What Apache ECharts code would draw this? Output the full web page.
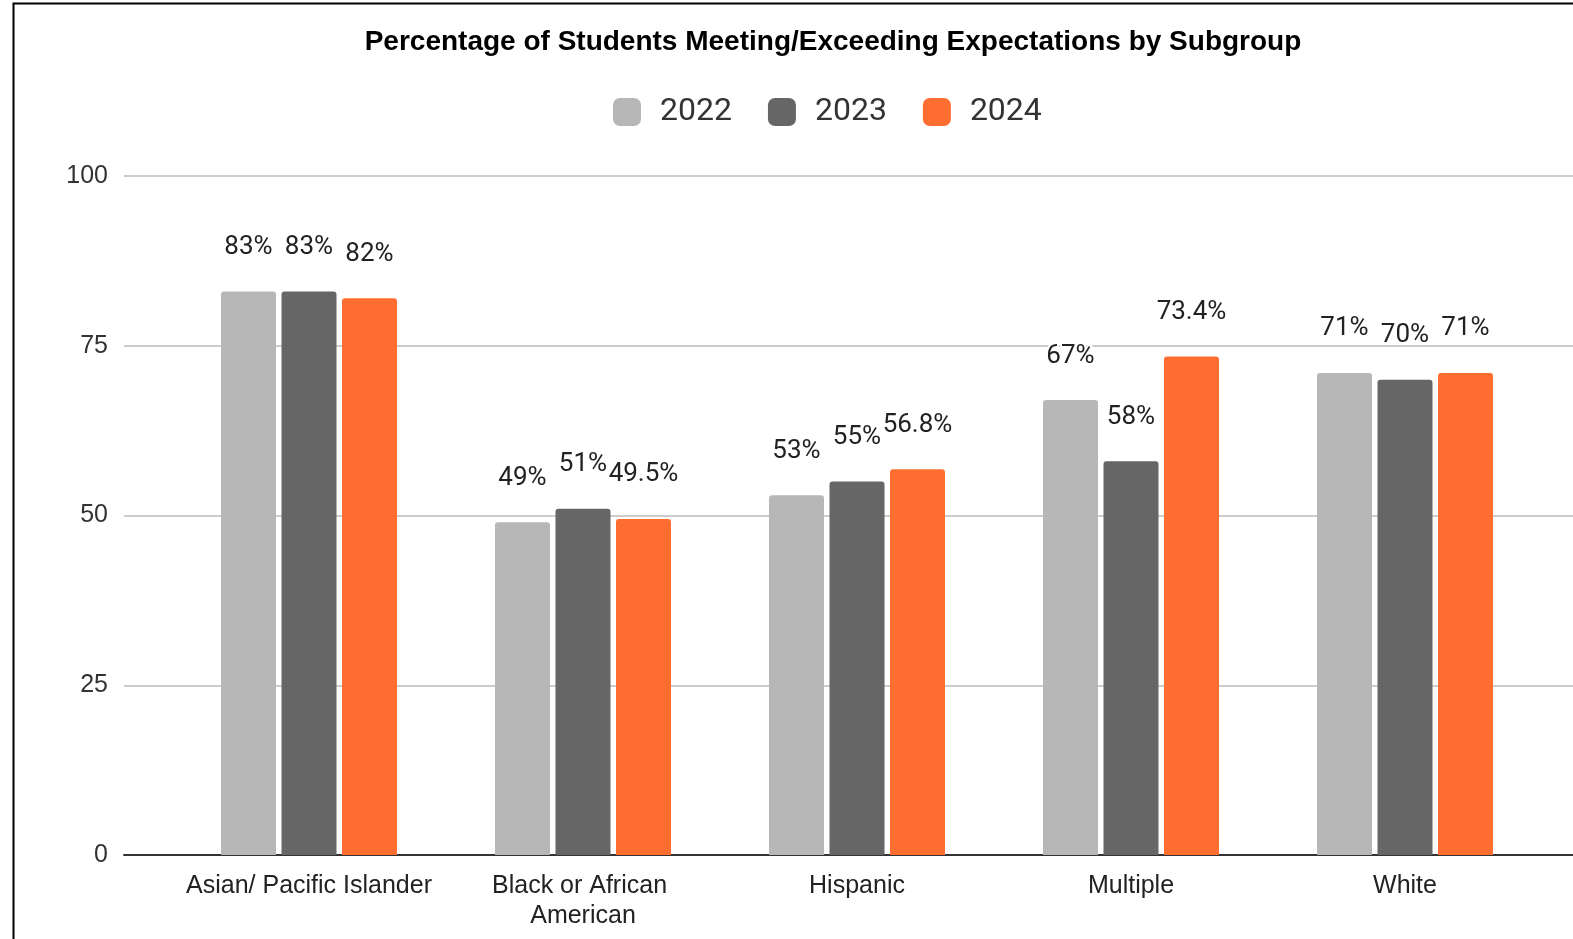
<!DOCTYPE html>
<html>
<head>
<meta charset="utf-8">
<title>Percentage of Students Meeting/Exceeding Expectations by Subgroup</title>
<script src="https://cdn.jsdelivr.net/npm/echarts@6/dist/echarts.min.js"></script>
<style>
  html, body { margin: 0; padding: 0; background: #fff; overflow: hidden; }
  #charts { width: 1573px; height: 939px; }
</style>
</head>
<body>
<div id="charts"></div>
<script>
// data
var subgroups = ['Asian/ Pacific Islander', 'Black or African American', 'Hispanic', 'Multiple', 'White'];
var years = ['2022', '2023', '2024'];
var values2022 = [83, 49, 53, 67, 71];
var values2023 = [83, 51, 55, 58, 70];
var values2024 = [82, 49.5, 56.8, 73.4, 71];
var yTicks = [0, 25, 50, 75, 100];

var colors = ['#b7b7b7', '#666666', '#ff6d31'];

function makeSeries(name, data, color) {
    return {
        name: name,
        type: 'bar',
        xAxisIndex: 1,
        yAxisIndex: 1,
        data: data,
        barWidth: 55,
        barGap: '10%',
        itemStyle: { color: color, borderRadius: [3, 3, 0, 0] },
        label: {
            show: true,
            position: 'top',
            distance: 31,
            fontFamily: 'Roboto',
            fontSize: 26,
            color: '#222',
            textBorderColor: '#fff',
            textBorderWidth: 4,
            formatter: function (p) { return p.value + '%'; }
        }
    };
}

function initECharts(myChart) {
    var option = {
        animation: false,
        backgroundColor: '#fff',
        title: {
            text: 'Percentage of Students Meeting/Exceeding Expectations by Subgroup',
            left: 828,
            textAlign: 'center',
            top: 23,
            textStyle: {
                fontFamily: 'Liberation Sans',
                fontWeight: 'bold',
                fontSize: 28,
                color: '#000'
            }
        },
        legend: {
            data: years,
            left: 608,
            top: 91,
            icon: 'roundRect',
            itemWidth: 28,
            itemHeight: 28,
            itemGap: 36,
            textStyle: {
                fontFamily: 'Roboto',
                fontSize: 32,
                color: '#333',
                padding: [0, 0, 0, 14]
            }
        },
        graphic: [{
            type: 'rect',
            shape: { x: 13.5, y: 3.5, width: 1700, height: 1100 },
            style: { fill: 'none', stroke: '#000', lineWidth: 2 },
            z: 100
        }],
        grid: [
            { left: 124, right: 0, top: 176, bottom: 84 },
            { left: 172, width: 1370, top: 176, bottom: 84 }
        ],
        xAxis: [
            {
                type: 'category',
                gridIndex: 0,
                data: [''],
                axisLine: { show: true, lineStyle: { color: '#333', width: 2 } },
                axisTick: { show: false },
                axisLabel: { show: false }
            },
            {
                type: 'category',
                gridIndex: 1,
                data: subgroups,
                axisLine: { show: false },
                axisTick: { show: false },
                axisLabel: {
                    interval: 0,
                    margin: 16,
                    fontFamily: 'Liberation Sans',
                    fontSize: 25,
                    color: '#222',
                    lineHeight: 30,
                    width: 265,
                    overflow: 'break'
                }
            }
        ],
        yAxis: [
            {
                type: 'value',
                gridIndex: 0,
                min: yTicks[0],
                max: yTicks[yTicks.length - 1],
                interval: 25,
                axisLine: { show: false },
                axisTick: { show: false },
                axisLabel: {
                    margin: 16,
                    fontFamily: 'Liberation Sans',
                    fontSize: 25,
                    color: '#333'
                },
                splitLine: { lineStyle: { color: '#cccccc', width: 2 } }
            },
            {
                type: 'value',
                gridIndex: 1,
                min: yTicks[0],
                max: yTicks[yTicks.length - 1],
                interval: 25,
                show: false,
                splitLine: { show: false }
            }
        ],
        series: [
            makeSeries(years[0], values2022, colors[0]),
            makeSeries(years[1], values2023, colors[1]),
            makeSeries(years[2], values2024, colors[2])
        ]
    };

    myChart.setOption(option);
}

window.onload = function () {
    var myChart = echarts.init(document.getElementById('charts'));
    initECharts(myChart);
};
</script>
</body>
</html>
